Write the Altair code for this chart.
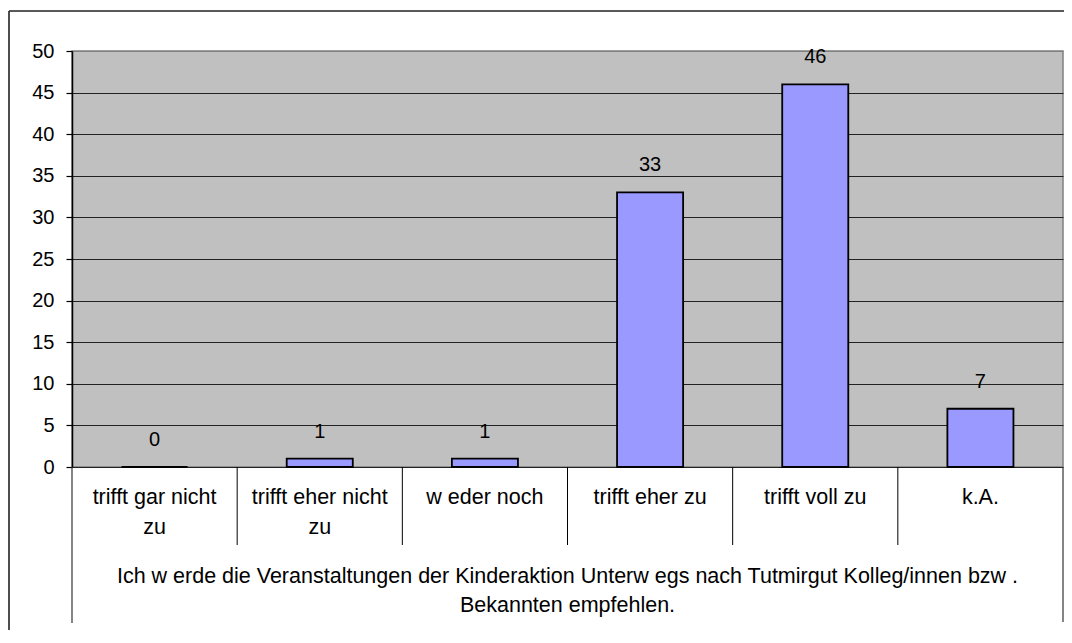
import altair as alt
import pandas as pd

# ---- data ----
categories = ["trifft gar nicht\nzu", "trifft eher nicht\nzu", "w eder noch",
              "trifft eher zu", "trifft voll zu", "k.A."]
values = [0, 1, 1, 33, 46, 7]
y_ticks = [0, 5, 10, 15, 20, 25, 30, 35, 40, 45, 50]
title_lines = ["Ich w erde die Veranstaltungen der Kinderaktion Unterw egs nach Tutmirgut Kolleg/innen bzw .",
               "Bekannten empfehlen."]

W, H = 991, 416
FONT = "Liberation Sans"
FS = 20
FS_TXT = 21.5

df = pd.DataFrame({"cat": categories, "value": values})
df["idx"] = range(len(df))
df["x0"] = df["idx"] + 0.3
df["x1"] = df["idx"] + 0.7
df["xc"] = df["idx"] + 0.5
df["zero"] = 0
df["line1"] = [c.split("\n")[0] for c in categories]
df["line2"] = [c.split("\n")[1] if "\n" in c else "" for c in categories]

xscale = alt.Scale(domain=[0, len(categories)], nice=False, zero=False)
yscale = alt.Scale(domain=[0, 50], nice=False)

base = alt.Chart(df)

bars = base.mark_bar(fill="#9999FF", stroke="black", strokeWidth=1.8).encode(
    x=alt.X("x0:Q", scale=xscale, axis=None),
    x2="x1:Q",
    y=alt.Y("value:Q", scale=yscale,
            axis=alt.Axis(values=y_ticks, title=None, grid=True,
                          gridColor={"condition": {"test": "datum.value === 50", "value": "#808080"}, "value": "#222222"},
                          gridWidth=1, domainColor="black", domainWidth=1.5,
                          tickColor="black", tickSize=6, tickWidth=1.2,
                          labelFontSize=FS, labelFont=FONT, labelColor="black",
                          labelPadding=12)),
    y2="zero:Q",
)

labels = base.mark_text(dy=-27, baseline="middle", fontSize=FS, font=FONT, color="black").encode(
    x=alt.X("xc:Q", scale=xscale), y=alt.Y("value:Q", scale=yscale), text="value:Q")

cat1 = base.mark_text(baseline="middle", fontSize=FS_TXT, font=FONT, color="black").encode(
    x=alt.X("xc:Q", scale=xscale), y=alt.value(H + 31), text="line1:N")
cat2 = base.mark_text(baseline="middle", fontSize=FS_TXT, font=FONT, color="black").encode(
    x=alt.X("xc:Q", scale=xscale), y=alt.value(H + 61), text="line2:N")

seps = base.transform_filter("datum.idx > 0").mark_rule(color="black", strokeWidth=1).encode(
    x=alt.X("idx:Q", scale=xscale), y=alt.value(H), y2=alt.value(H + 78))

one = alt.Chart(pd.DataFrame({"a": [0]}))
t1 = alt.Chart(pd.DataFrame({"t": [title_lines[0]]})).mark_text(
    baseline="middle", fontSize=FS_TXT, font=FONT, color="black").encode(
    x=alt.value(W / 2), y=alt.value(H + 110), text="t:N")
t2 = alt.Chart(pd.DataFrame({"t": [title_lines[1]]})).mark_text(
    baseline="middle", fontSize=FS_TXT, font=FONT, color="black").encode(
    x=alt.value(W / 2), y=alt.value(H + 139), text="t:N")

left_line = one.mark_rule(color="#333333", strokeWidth=1.2).encode(
    x=alt.value(0), y=alt.value(H), y2=alt.value(H + 156))
right_line = one.mark_rule(color="#333333", strokeWidth=1.2).encode(
    x=alt.value(W), y=alt.value(H), y2=alt.value(H + 155))
outer_top = one.mark_rule(color="#222222", strokeWidth=1.6).encode(
    x=alt.value(-63), x2=alt.value(W + 20), y=alt.value(-40))
outer_left = one.mark_rule(color="#222222", strokeWidth=1.6).encode(
    x=alt.value(-63), y=alt.value(-40), y2=alt.value(H + 200))

chart = alt.layer(bars, labels, cat1, cat2, seps, t1, t2, left_line, right_line,
                  outer_top, outer_left).properties(
    width=W, height=H,
    autosize=alt.AutoSizeParams(type="none"),
    padding={"left": 64, "top": 43, "right": 1, "bottom": 163},
).configure_view(fill="#C0C0C0", stroke="#808080", strokeWidth=1.5)

chart.save("out.html", embed_options={"renderer": "svg", "actions": False})
